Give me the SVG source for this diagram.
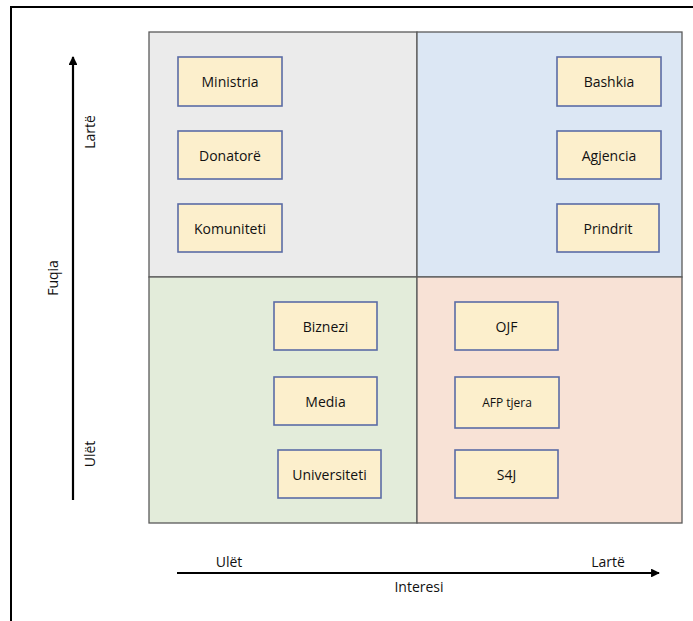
<svg xmlns="http://www.w3.org/2000/svg" width="693" height="621" viewBox="0 0 693 621">
<style>
.q{stroke:#5a5a5a;stroke-width:1.3}
.box rect{fill:#fcefcc;stroke:#5b6ca6;stroke-width:1.6}
text{font-family:"Open Sans","Liberation Sans",sans-serif;font-size:14px;fill:#111}
.box text{text-anchor:middle;dominant-baseline:central}
.ax{stroke:#000;stroke-width:2.2;fill:none}
</style>
<defs>
<marker id="ah" viewBox="0 0 10 10" refX="9" refY="5" markerWidth="4" markerHeight="4" orient="auto" markerUnits="strokeWidth">
<path d="M0,0 L10,5 L0,10 z" fill="#000"/>
</marker>
</defs>
<rect width="693" height="621" fill="#fff"/>
<path d="M11,621 V7 H693" fill="none" stroke="#000" stroke-width="2"/>
<g id="quadrants">
<rect class="q" x="149" y="32" width="268" height="245" fill="#ebebeb"/>
<rect class="q" x="417" y="32" width="265" height="245" fill="#dce7f4"/>
<rect class="q" x="149" y="277" width="268" height="246" fill="#e3ecda"/>
<rect class="q" x="417" y="277" width="265" height="246" fill="#f8e2d6"/>
</g>
<g id="ministria" class="box"><rect x="178" y="57" width="104" height="49"/><text x="230" y="81.5">Ministria</text></g>
<g id="donatore" class="box"><rect x="178" y="131" width="104" height="48"/><text x="230" y="155">Donatorë</text></g>
<g id="komuniteti" class="box"><rect x="178" y="204" width="104" height="48"/><text x="230" y="228">Komuniteti</text></g>
<g id="bashkia" class="box"><rect x="557" y="57" width="104" height="49"/><text x="609" y="81.5">Bashkia</text></g>
<g id="agjencia" class="box"><rect x="557" y="131" width="104" height="48"/><text x="609" y="155">Agjencia</text></g>
<g id="prindrit" class="box"><rect x="557" y="204" width="102" height="48"/><text x="608" y="228">Prindrit</text></g>
<g id="biznezi" class="box"><rect x="274" y="302" width="103" height="48"/><text x="325.5" y="326">Biznezi</text></g>
<g id="media" class="box"><rect x="274" y="377" width="103" height="48"/><text x="325.5" y="401">Media</text></g>
<g id="universiteti" class="box"><rect x="278" y="450" width="103" height="48"/><text x="329.5" y="474">Universiteti</text></g>
<g id="ojf" class="box"><rect x="455" y="302" width="103" height="48"/><text x="506.5" y="326">OJF</text></g>
<g id="afp" class="box"><rect x="455" y="377" width="104" height="51"/><text x="507" y="402.5" style="font-size:12px">AFP tjera</text></g>
<g id="s4j" class="box"><rect x="455" y="450" width="103" height="48"/><text x="506.5" y="474">S4J</text></g>
<g id="connectors">
<line class="ax" x1="73" y1="500" x2="73" y2="57" marker-end="url(#ah)"/>
<line class="ax" x1="177" y1="573" x2="659" y2="573" marker-end="url(#ah)"/>
</g>
<g id="labels">
<text transform="translate(95,132) rotate(-90)" text-anchor="middle">Lartë</text>
<text transform="translate(58,278) rotate(-90)" text-anchor="middle">Fuqia</text>
<text transform="translate(95,454) rotate(-90)" text-anchor="middle">Ulët</text>
<text x="229" y="567" text-anchor="middle">Ulët</text>
<text x="608" y="567" text-anchor="middle">Lartë</text>
<text x="419" y="592" text-anchor="middle">Interesi</text>
</g>
</svg>
